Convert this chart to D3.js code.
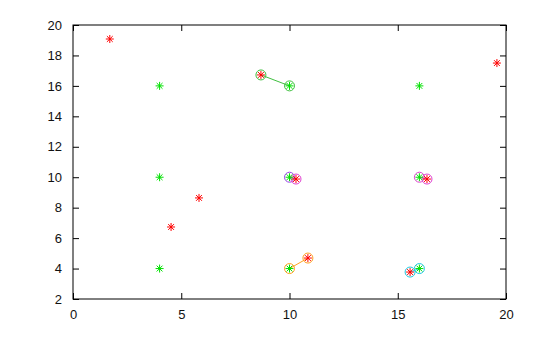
<!DOCTYPE html>
<html><head><meta charset="utf-8">
<script src="https://cdn.jsdelivr.net/npm/d3@7"></script>
<style>body{margin:0;background:#fff}svg{display:block}text{font-family:"Liberation Sans",Arial,sans-serif;font-size:13px;fill:#111}</style>
</head><body><svg id="c" width="560" height="337"></svg>
<script>
// Unmatched detections (red stars)
const redX = [1.7, 4.53, 5.82, 19.58];
const redY = [19.08, 6.73, 8.64, 17.5];
// Unmatched targets (green stars)
const greenX = [4, 4, 4, 16];
const greenY = [16, 10, 4, 16];
// Matched pairs: target (green) -> detection (red)
const pairTX = [10, 10, 16, 10, 16];
const pairTY = [16, 10, 10, 4, 4];
const pairDX = [8.68, 10.3, 16.35, 10.85, 15.57];
const pairDY = [16.72, 9.88, 9.88, 4.69, 3.77];
const pairTColor = ["#40c040", "#9a40e8", "#e040d0", "#ffa020", "#20c8e0"];
const pairDColor = ["#40c040", "#e040d0", "#e040d0", "#ffa020", "#20c8e0"];
const xTicks = [0, 5, 10, 15, 20];
const yTicks = [2, 4, 6, 8, 10, 12, 14, 16, 18, 20];

const L = 73, R = 506, T = 25, B = 299;
const svg = d3.select("#c");
const x = d3.scaleLinear().domain([0, 20]).range([L, R]);
const y = d3.scaleLinear().domain([2, 20]).range([B, T]);

const axB = svg.append("g").attr("transform", `translate(0,${B})`)
  .call(d3.axisBottom(x).tickValues(xTicks).tickSizeInner(-6).tickSizeOuter(0).tickPadding(11));
const axT = svg.append("g").attr("transform", `translate(0,${T})`)
  .call(d3.axisTop(x).tickValues(xTicks).tickSizeInner(-6).tickSizeOuter(0).tickFormat(""));
const axL = svg.append("g").attr("transform", `translate(${L},0)`)
  .call(d3.axisLeft(y).tickValues(yTicks).tickSizeInner(-6).tickSizeOuter(0).tickPadding(11));
const axR = svg.append("g").attr("transform", `translate(${R},0)`)
  .call(d3.axisRight(y).tickValues(yTicks).tickSizeInner(-6).tickSizeOuter(0).tickFormat(""));
[axB, axT, axL, axR].forEach(a => {
  a.selectAll("path.domain").remove();
  a.selectAll("line").attr("stroke", "#000");
  a.selectAll("text").attr("font-size", 13).attr("font-family", "Liberation Sans, Arial, sans-serif").attr("fill", "#111");
});
svg.append("rect").attr("x", L).attr("y", T).attr("width", R - L).attr("height", B - T)
  .attr("fill", "none").attr("stroke", "#000").attr("stroke-width", 1);

function star(g, cx, cy, color) {
  const r = 4, d = 2.9;
  const p = `M${cx - r},${cy}L${cx + r},${cy}M${cx},${cy - r}L${cx},${cy + r}M${cx - d},${cy - d}L${cx + d},${cy + d}M${cx - d},${cy + d}L${cx + d},${cy - d}`;
  g.append("path").attr("d", p).attr("stroke", color).attr("stroke-width", 1).attr("fill", "none");
}

const g = svg.append("g");
// pair lines
pairTX.forEach((_, i) => {
  g.append("line").attr("x1", x(pairTX[i])).attr("y1", y(pairTY[i]))
    .attr("x2", x(pairDX[i])).attr("y2", y(pairDY[i]))
    .attr("stroke", pairTColor[i]).attr("stroke-width", 1);
});
// pair circles
pairTX.forEach((_, i) => {
  g.append("circle").attr("cx", x(pairTX[i])).attr("cy", y(pairTY[i])).attr("r", 5)
    .attr("fill", "none").attr("stroke", pairTColor[i]).attr("stroke-width", 1);
  g.append("circle").attr("cx", x(pairDX[i])).attr("cy", y(pairDY[i])).attr("r", 5)
    .attr("fill", "none").attr("stroke", pairDColor[i]).attr("stroke-width", 1);
});
// stars
greenX.forEach((v, i) => star(g, x(v), y(greenY[i]), "#00e000"));
pairTX.forEach((v, i) => star(g, x(v), y(pairTY[i]), "#00e000"));
redX.forEach((v, i) => star(g, x(v), y(redY[i]), "#ff0000"));
pairDX.forEach((v, i) => star(g, x(v), y(pairDY[i]), "#ff0000"));
</script></body></html>
